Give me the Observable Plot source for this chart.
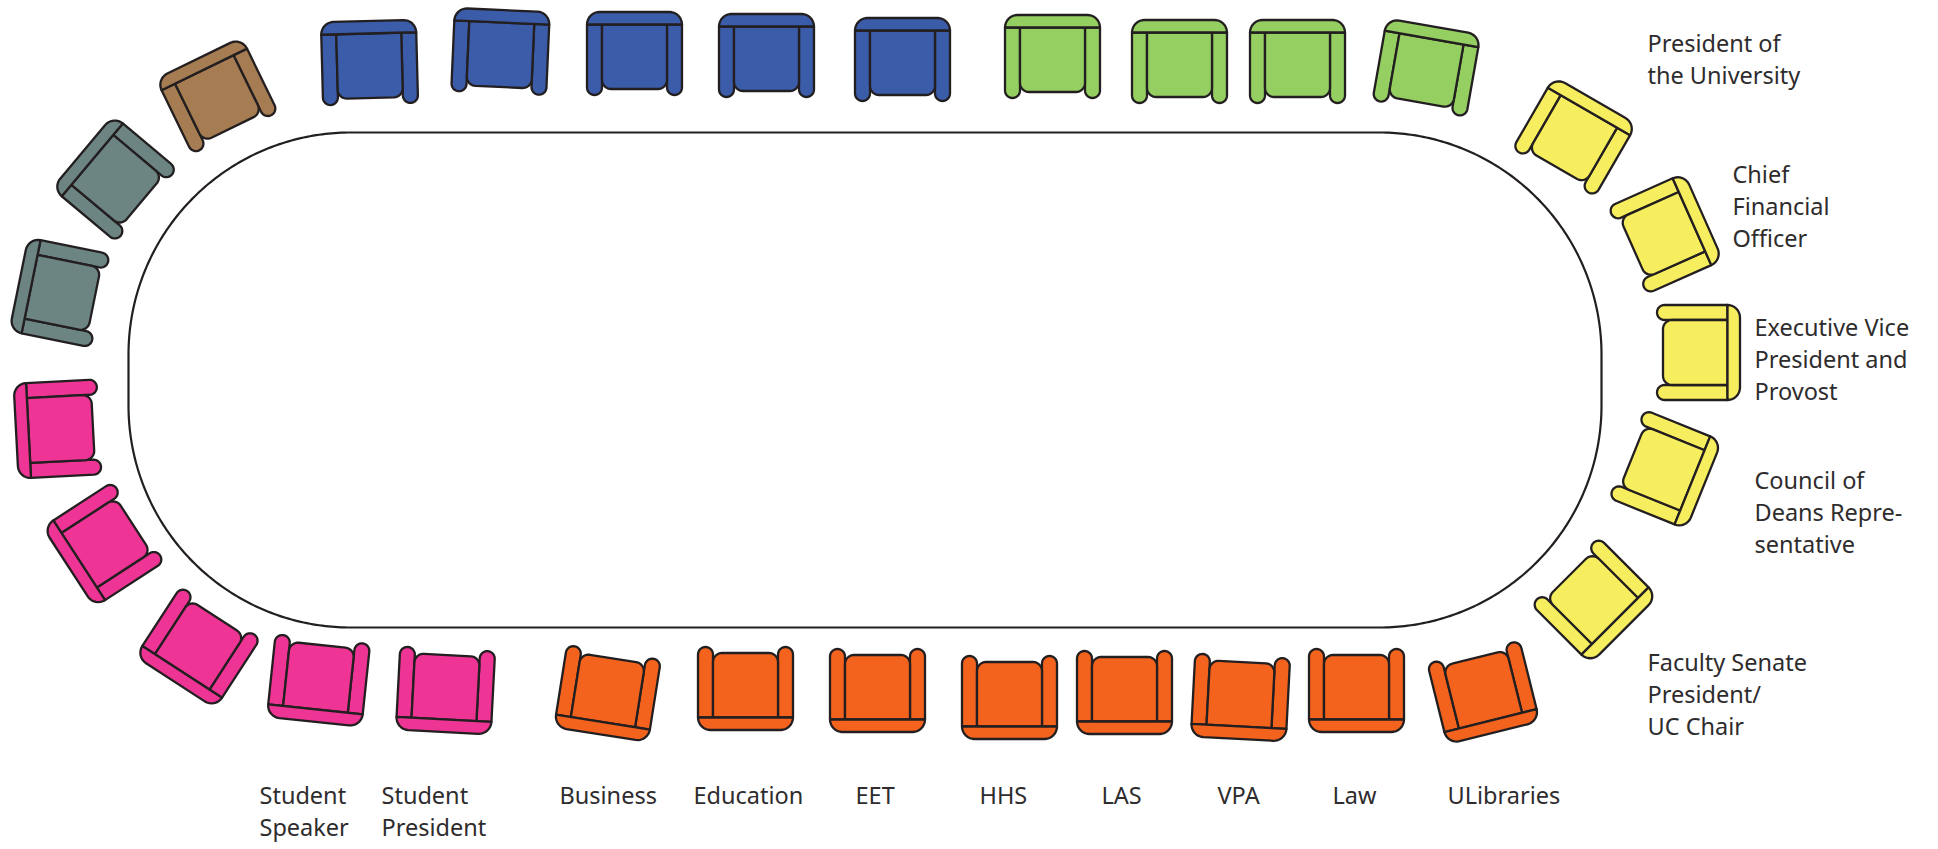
<!DOCTYPE html>
<html>
<head>
<meta charset="utf-8">
<style>html,body{margin:0;padding:0;background:#fff;overflow:hidden}svg{display:block}</style>
<script src="https://cdn.jsdelivr.net/npm/d3@7"></script>
<script src="https://cdn.jsdelivr.net/npm/@observablehq/plot@0.6"></script>
</head>
<body>
<div id="chart"></div>
<script>
const chairX = [369,500,634,766,902,1052,1179,1297,1426,1574,1665,1698,1665,1594,1483,1356,1240,1124,1009,877,745,607,445,318,197.5,103,57,59,114,216.5];
const chairY = [62,51,53,55,59,56,61,61,67,136,233,352,469,600,692,690,697,692,697,690,688,693,690,680,647,544,428.5,292,178,95];
const chairAngle = [-1.5,2.5,0,0,0,0,0,0,10,30,66,90,112,135,166,180,183,180,180,180,180,189,183,186,213,237,267,281.5,310,334];
const groupColors = ["#3b5ca8","#95cf62","#f6ed5f","#f4631e","#ee3596","#6c8583","#a67c52"];
const chairGroup = [0,0,0,0,0,1,1,1,1,2,2,2,2,2,3,3,3,3,3,3,3,3,4,4,4,4,4,5,5,6];
const labelLines = ["President of","the University","Chief","Financial","Officer","Executive Vice","President and","Provost","Council of","Deans Repre-","sentative","Faculty Senate","President/","UC Chair","ULibraries","Law","VPA","LAS","HHS","EET","Education","Business","Student","President","Student","Speaker"];
const labelX = [1647,1647,1732,1732,1732,1754,1754,1754,1754,1754,1754,1647,1647,1647,1447,1332,1217,1101,979,855,693,559,381,381,259,259];
const labelY = [51,83,182,214,246,335,367,399,488,520,552,670,702,734,803,803,803,803,803,803,803,803,803,835,803,835];
const tableLeft = 128, tableRight = 1601, tableTop = 132, tableBottom = 627, tableRadius = 222;
const ink = "#231f20";

function rounded(corners) {
  const out = [], n = corners.length;
  corners.forEach((c, i) => {
    const [x, y, r] = c;
    if (!r) { out.push([x, y]); return; }
    const p = corners[(i - 1 + n) % n], q = corners[(i + 1) % n];
    const d = (a) => { const l = Math.hypot(a[0] - x, a[1] - y); return [(a[0] - x) / l, (a[1] - y) / l]; };
    const u = d(p), v = d(q);
    const steps = Math.max(8, Math.ceil(r / 2));
    for (let k = 0; k <= steps; k++) {
      const t = k / steps * Math.PI / 2;
      out.push([x + u[0] * r * (1 - Math.sin(t)) + v[0] * r * (1 - Math.cos(t)),
                y + u[1] * r * (1 - Math.sin(t)) + v[1] * r * (1 - Math.cos(t))]);
    }
  });
  return out;
}
const W = 47.5, H = 41.5, backY = -29, armX = 32.5, seatB = 35.5, armR = 7.5;
const parts = [
  rounded([[-W, backY, 0], [-armX, backY, 0], [-armX, H, armR], [-W, H, armR]]),
  rounded([[armX, backY, 0], [W, backY, 0], [W, H, armR], [armX, H, armR]]),
  rounded([[-armX, backY, 0], [armX, backY, 0], [armX, seatB, 9], [-armX, seatB, 9]]),
  rounded([[-W, -H, 12.5], [W, -H, 12.5], [W, backY, 0], [-W, backY, 0]])
];
const rows = [];
chairX.forEach((cx, i) => {
  const a = chairAngle[i] * Math.PI / 180, cos = Math.cos(a), sin = Math.sin(a);
  parts.forEach((part, j) => part.forEach(([px, py]) => rows.push({
    x: cx + px * cos - py * sin,
    y: chairY[i] + px * sin + py * cos,
    id: i * 10 + j,
    color: groupColors[chairGroup[i]]
  })));
});
const table = rounded([
  [tableLeft, tableTop, tableRadius], [tableRight, tableTop, tableRadius],
  [tableRight, tableBottom, tableRadius], [tableLeft, tableBottom, tableRadius]
]).map(([x, y]) => ({x, y}));
const labels = labelLines.map((text, i) => ({text, x: labelX[i], y: labelY[i]}));

const chart = Plot.plot({
  width: 1938, height: 849,
  marginTop: 0, marginRight: 0, marginBottom: 0, marginLeft: 0,
  x: {domain: [0, 1938], range: [0, 1938], axis: null},
  y: {domain: [0, 849], range: [0, 849], axis: null},
  color: {type: "identity"},
  style: {background: "#fff"},
  marks: [
    Plot.line(table, {x: "x", y: "y", curve: "linear-closed", stroke: ink, strokeWidth: 2.2, fill: "#fff"}),
    Plot.line(rows, {x: "x", y: "y", z: "id", curve: "linear-closed", fill: "color", stroke: ink, strokeWidth: 2.3, strokeLinejoin: "round"}),
    Plot.text(labels, {x: "x", y: "y", text: "text", textAnchor: "start", lineAnchor: "bottom", dy: 0,
      fontFamily: "'Noto Sans'", fontSize: 23.5, fill: "#2e2c2d"})
  ]
});
document.getElementById("chart").append(chart);
</script>
</body>
</html>
